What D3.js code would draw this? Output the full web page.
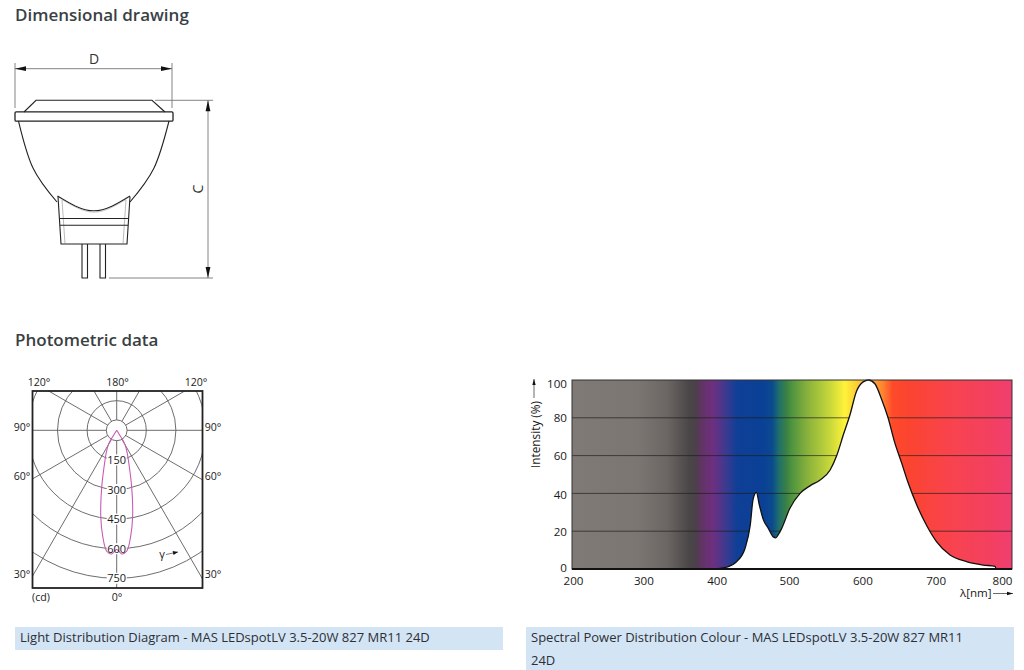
<!DOCTYPE html>
<html><head><meta charset="utf-8">
<script src="https://cdn.jsdelivr.net/npm/d3@7/dist/d3.min.js"></script>
<style>html,body{margin:0;padding:0;background:#fff}svg{display:block}text{font-family:"Open Sans",sans-serif}</style>
</head><body><svg id="c" width="1024" height="670"></svg>
<script>
// ---- spectral data
const spectrumNm = [200,395,411,424.6,436,443,447,451.4,455.4,461,467.7,474.5,478,481,486,497,511,524.5,538,552,561,570,579,588,597,604.5,613,622,631,640,649.6,658,670,683.6,697,715.5,738,760.6,777,778,800];
const spectrumPct = [0,0,1,3.9,11,23,37,40.5,34,26,21.5,17,16.5,18,21.5,32,40,44,47,52.4,60,71,81.5,94,99,100,98,90,80,67,56,46,34,23,14.5,7.4,3.9,2.1,1.4,0,0];
const spectrumXTicks = [200,300,400,500,600,700,800];
const spectrumXNudge = [1,-2,-2,-3,-3,-3,-10];
const spectrumYTicks = [0,20,40,60,80,100];
const spectrumYNudge = [-1,1,1,0,0,4];
const gradNm = [200,290,330,360,368,375,392,410,425,460,473,482,492,500,520,552,572,590,615,625,637,660,720,770,800];
const gradCol = ["#7f7a76","#7b7672","#6b6663","#4a4647","#4a4248","#5e3560","#6f2f80","#3c3a90","#0f3f96","#0a4096","#0a4a8e","#1f6f6e","#3a8045","#4f9440","#86b03c","#c8d83a","#fff23a","#fbc836","#ff9a30","#ff8030","#ff4a2a","#fb4430","#f84350","#f3405f","#f03e72"];
// ---- polar data
const polarGamma = [0,1,2.3,4.7,7.5,10.5,14.9,21.5,25,30,32,32,32];
const polarCd = [604,612,627,615,542,443,294,161,125,85,55,28,0];
const polarRings = [150,300,450,600,750];
const polarSpokes = [0,30,60,90,120,150,180,210,240,270,300,330];
// ---- text
const captionLeft = "Light Distribution Diagram - MAS LEDspotLV 3.5-20W 827 MR11 24D";
const captionRight = ["Spectral Power Distribution Colour - MAS LEDspotLV 3.5-20W 827 MR11","24D"];
const svg = d3.select("#c");
const defs = svg.append("defs");
const ink="#222", labelCol="#1a1a1a";

// headings
[["Dimensional drawing",21],["Photometric data",346]].forEach(([t,y])=>svg.append("text").attr("x",15).attr("y",y).attr("font-size",17).attr("font-weight",600).attr("fill","#3a3f44").text(t));

// captions
svg.append("rect").attr("x",15).attr("y",627).attr("width",488).attr("height",23).attr("fill","#d3e4f5");
svg.append("rect").attr("x",526).attr("y",627).attr("width",488).attr("height",43).attr("fill","#d3e4f5");
svg.append("text").attr("x",20).attr("y",642).attr("font-size",13).attr("font-weight",500).attr("fill","#2c3036").text(captionLeft);
captionRight.forEach((t,i)=>svg.append("text").attr("x",531).attr("y",642+i*23).attr("font-size",13).attr("font-weight",500).attr("fill","#2c3036").text(t));

// ---------- spectral chart
const sx = d3.scaleLinear().domain([200,800]).range([572,1012]);
const sy = d3.scaleLinear().domain([0,100]).range([569,380]);
const g = defs.append("linearGradient").attr("id","spec").attr("gradientUnits","userSpaceOnUse").attr("x1",sx(200)).attr("x2",sx(800)).attr("y1",0).attr("y2",0);
gradNm.forEach((n,i)=>g.append("stop").attr("offset",(n-200)/600).attr("stop-color",gradCol[i]));
const spec = svg.append("g");
spec.append("rect").attr("x",sx(200)).attr("y",sy(100)).attr("width",sx(800)-sx(200)).attr("height",sy(0)-sy(100)).attr("fill","url(#spec)");
spec.selectAll("line.g").data(spectrumYTicks.slice(1,5)).join("line").attr("x1",sx(200)).attr("x2",sx(800)).attr("y1",d=>sy(d)).attr("y2",d=>sy(d)).attr("stroke","#1c1c1c").attr("stroke-opacity",.75).attr("stroke-width",.9);
const pts = spectrumNm.map((n,i)=>[n,spectrumPct[i]]);
spec.append("path").attr("d",d3.area().x(d=>sx(d[0])).y0(sy(0)).y1(d=>sy(d[1])).curve(d3.curveMonotoneX)(pts)).attr("fill","#fff");
spec.append("path").attr("d",d3.line().x(d=>sx(d[0])).y(d=>sy(d[1])).curve(d3.curveMonotoneX)(pts.filter(d=>d[0]>=395&&d[0]<=778))).attr("fill","none").attr("stroke","#111").attr("stroke-width",1.3);
spec.append("rect").attr("x",sx(200)).attr("y",sy(100)).attr("width",sx(800)-sx(200)).attr("height",sy(0)-sy(100)).attr("fill","none").attr("stroke","#333").attr("stroke-width",1);
spec.append("line").attr("x1",sx(200)).attr("x2",sx(800)).attr("y1",sy(0)).attr("y2",sy(0)).attr("stroke","#111").attr("stroke-width",2);
const xAxis = svg.append("g").attr("transform","translate(0,569)").call(d3.axisBottom(sx).tickValues(spectrumXTicks).tickSize(0).tickPadding(8));
const yAxis = svg.append("g").attr("transform","translate(572,0)").call(d3.axisLeft(sy).tickValues(spectrumYTicks).tickSize(0).tickPadding(5));
[xAxis,yAxis].forEach(a=>{a.select(".domain").remove();a.selectAll("text").attr("font-size",11.6).attr("font-family","Open Sans").attr("fill",labelCol);});
xAxis.selectAll("text").attr("dx",(d,i)=>spectrumXNudge[i]);
yAxis.selectAll("text").attr("transform",(d,i)=>`translate(0,${spectrumYNudge[i]})`);
svg.append("text").attr("transform","translate(540,468) rotate(-90)").attr("font-size",11.8).attr("fill",labelCol).text("Intensity (%)");
svg.append("text").attr("x",960).attr("y",597).attr("font-size",11.6).attr("fill",labelCol).text("λ[nm]");

function arrow(x1,y1,x2,y2,len,w,col,sw){
  const a=Math.atan2(y2-y1,x2-x1);
  svg.append("line").attr("x1",x1).attr("y1",y1).attr("x2",x2).attr("y2",y2).attr("stroke",col).attr("stroke-width",sw);
  const p=d3.path();p.moveTo(x2,y2);
  p.lineTo(x2-len*Math.cos(a)+w*Math.sin(a),y2-len*Math.sin(a)-w*Math.cos(a));
  p.lineTo(x2-len*Math.cos(a)-w*Math.sin(a),y2-len*Math.sin(a)+w*Math.cos(a));p.closePath();
  svg.append("path").attr("d",p.toString()).attr("fill","#111");
}
arrow(534,398,534,379,6,1.7,"#444",.8);
arrow(993,593.5,1013,593.5,6,1.7,"#444",.8);

// ---------- polar chart
const cx=116.7, cy=430.3, fx0=32.5, fx1=202.5, fy0=391, fy1=588;
const pr = d3.scaleLinear().domain([0,750]).range([0,148]);
defs.append("clipPath").attr("id","frame").append("rect").attr("x",fx0).attr("y",fy0).attr("width",fx1-fx0).attr("height",fy1-fy0);
const pol = svg.append("g").attr("clip-path","url(#frame)");
const grid="#5c5c5c";
pol.selectAll("circle.r").data(polarRings).join("circle").attr("cx",cx).attr("cy",cy).attr("r",d=>pr(d)).attr("fill","none").attr("stroke",grid).attr("stroke-width",.9);
pol.append("circle").attr("cx",cx).attr("cy",cy).attr("r",10.4).attr("fill","none").attr("stroke",grid).attr("stroke-width",.9);
pol.selectAll("line.s").data(polarSpokes).join("line")
  .attr("x1",d=>cx+10.4*Math.sin(d*Math.PI/180)).attr("y1",d=>cy+10.4*Math.cos(d*Math.PI/180))
  .attr("x2",d=>cx+300*Math.sin(d*Math.PI/180)).attr("y2",d=>cy+300*Math.cos(d*Math.PI/180))
  .attr("stroke",grid).attr("stroke-width",.9);
// ring labels over a white knock-out
pol.selectAll("rect.l").data(polarRings).join("rect").attr("x",cx-10).attr("y",d=>cy+pr(d)-5.5).attr("width",20).attr("height",11).attr("fill","#fff");
// curve
const half = polarGamma.map((a,i)=>[a,polarCd[i]]);
const full = half.slice().reverse().map(d=>[-d[0],d[1]]).concat(half.slice(1));
const radial = d3.lineRadial().angle(d=>Math.PI-d[0]*Math.PI/180).radius(d=>pr(d[1])).curve(d3.curveCatmullRom.alpha(.5));
pol.append("path").attr("transform",`translate(${cx},${cy})`).attr("d",radial(full)).attr("fill","none").attr("stroke","#c85bb4").attr("stroke-width",1.1);
polarRings.forEach(v=>svg.append("text").attr("x",cx).attr("y",cy+pr(v)+4).attr("text-anchor","middle").attr("font-size",11).attr("fill",labelCol).text(v));
svg.append("rect").attr("x",fx0).attr("y",fy0).attr("width",fx1-fx0).attr("height",fy1-fy0).attr("fill","none").attr("stroke","#222").attr("stroke-width",1.8);
const polLabels=[["120°",39,386],["180°",117.5,386],["120°",196,386],["90°",22,431],["90°",213,431],["60°",22,480],["60°",213,480],["30°",22,578],["30°",213,578],["(cd)",41,601],["0°",117,601]];
polLabels.forEach(([t,x,y])=>svg.append("text").attr("x",x).attr("y",y).attr("text-anchor","middle").attr("font-size",10.6).attr("fill",labelCol).text(t));
svg.append("text").attr("x",162).attr("y",558).attr("text-anchor","middle").attr("font-size",11).attr("fill",labelCol).text("γ");
arrow(166,554.5,178,552,5,2,"#444",.7);

// ---------- lamp drawing
const lamp = svg.append("g").attr("fill","none").attr("stroke",ink).attr("stroke-width",1.1);
const L = d3.line();
const C = d3.line().curve(d3.curveNatural);
const lensPts=[[24,112],[36,100.3],[152,100.3],[165,112]];
const domeL=[[18.5,121],[33,168],[57,202]];
const domeR=[[169,121],[154,168],[130,202]];
const saddle=[[57.5,196],[93.8,210.8],[130,196]];
const saddle2=[[62,199.5],[94,212.2],[126,199.5]];
lamp.append("path").attr("d",L(lensPts));
lamp.append("rect").attr("x",15).attr("y",111.8).attr("width",158).attr("height",9.4).attr("rx",1.2).attr("stroke-width",1.3);
lamp.append("path").attr("d",C(domeL));
lamp.append("path").attr("d",C(domeR));
lamp.append("path").attr("d",C(saddle));
lamp.append("path").attr("d",C(saddle2)).attr("stroke-width",.5).attr("stroke","#999");
lamp.append("path").attr("d",L([[58,196.5],[61,244],[127,244],[130,196.5]]));
lamp.append("path").attr("d",L([[62,199.5],[65,244]])).attr("stroke-width",.5).attr("stroke","#777");
lamp.append("path").attr("d",L([[126,199.5],[123,244]])).attr("stroke-width",.5).attr("stroke","#777");
lamp.append("line").attr("x1",59.5).attr("x2",128.5).attr("y1",218.5).attr("y2",218.5);
lamp.append("line").attr("x1",60).attr("x2",128).attr("y1",225.3).attr("y2",225.3);
[[82,87.5],[100,105.5]].forEach(([a,b])=>lamp.append("path").attr("d",L([[a,244],[a,278],[b,278],[b,244]])));
// dimension lines
const dimCol="#777";
[[15,63,15,108],[172,63,172,108],[155,100.3,213,100.3],[109,278,213,278]].forEach(d=>svg.append("line").attr("x1",d[0]).attr("y1",d[1]).attr("x2",d[2]).attr("y2",d[3]).attr("stroke",dimCol).attr("stroke-width",.9));
arrow(94,68.7,15,68.7,11,2.4,dimCol,.9);
arrow(94,68.7,172,68.7,11,2.4,dimCol,.9);
arrow(208,190,208,100.3,11,2.4,dimCol,.9);
arrow(208,190,208,278,11,2.4,dimCol,.9);
svg.append("text").attr("x",94).attr("y",64).attr("text-anchor","middle").attr("font-size",14).attr("fill","#333").text("D");
svg.append("text").attr("transform","translate(202.5,189) rotate(-90)").attr("text-anchor","middle").attr("font-size",14).attr("fill","#333").text("C");
</script></body></html>
